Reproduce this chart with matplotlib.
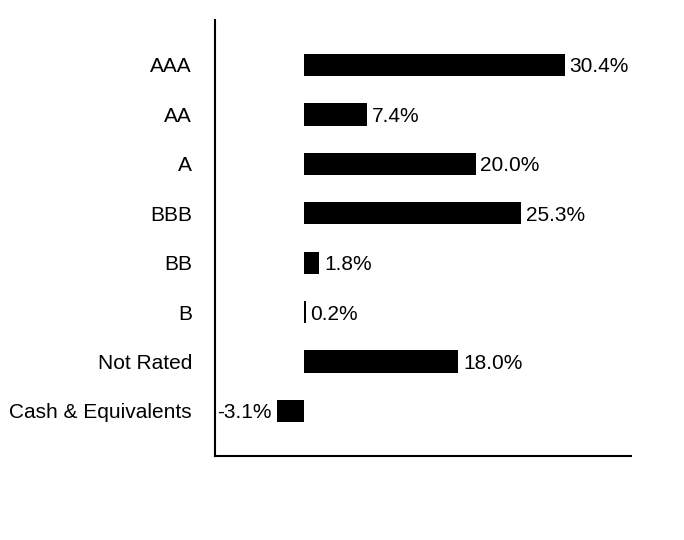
import matplotlib

matplotlib.use("Agg")
import matplotlib.pyplot as plt  # noqa: E402

plt.rcParams["font.family"] = ["Liberation Sans", "DejaVu Sans"]

categories = ["AAA", "AA", "A", "BBB", "BB", "B", "Not Rated", "Cash & Equivalents"]
values = [30.4, 7.4, 20.0, 25.3, 1.8, 0.2, 18.0, -3.1]
labels = ["30.4%", "7.4%", "20.0%", "25.3%", "1.8%", "0.2%", "18.0%", "-3.1%"]

fig = plt.figure(figsize=(6.84, 5.4), dpi=100)
ax = fig.add_axes([0.3143, 0.1556, 0.6082, 0.8074])

pos = list(range(len(categories)))
ax.barh(pos, values, height=0.45, color="black")

for y, v, lab in zip(pos, values, labels):
    if v >= 0:
        ax.text(v + 0.55, y, lab, va="center_baseline", ha="left", fontsize=15)
    else:
        ax.text(v - 0.6, y, lab, va="center_baseline", ha="right", fontsize=15)

ax.set_xlim(-10.35, 38.1)
ax.set_ylim(7.91, -0.91)
ax.set_yticks(pos)
ax.set_yticklabels(categories, fontsize=15, va="center_baseline")
ax.set_xticks([])
ax.tick_params(axis="y", length=0, pad=16.5)
for side in ("top", "right"):
    ax.spines[side].set_visible(False)
for side in ("left", "bottom"):
    ax.spines[side].set_linewidth(1.5)

fig.savefig("out.png", dpi=100)
